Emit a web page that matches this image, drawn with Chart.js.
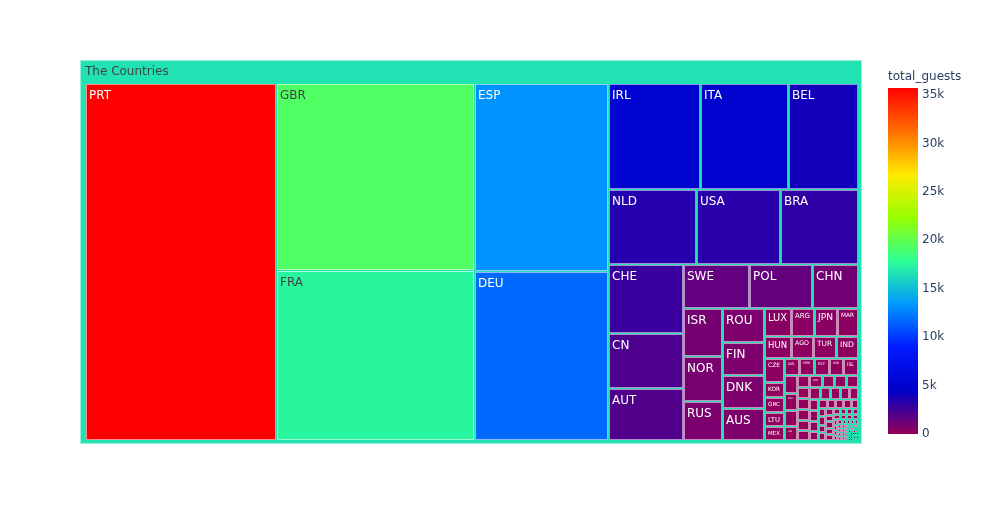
<!DOCTYPE html>
<html>
<head>
<meta charset="utf-8">
<script src="https://cdn.jsdelivr.net/npm/chart.js@4"></script>
<style>
  html, body { margin: 0; padding: 0; background: #fff; }
</style>
</head>
<body>
<canvas id="canva1" width="985" height="525"></canvas>
<script>
// pays (codes ISO) et nombre total de clients, triés du plus grand au plus petit
const countries = [
  'PRT', 'GBR', 'FRA', 'ESP', 'DEU', 'IRL', 'ITA', 'BEL', 'NLD', 'USA',
  'BRA', 'CHE', 'CN', 'AUT', 'SWE', 'POL', 'CHN', 'ISR', 'NOR', 'RUS',
  'ROU', 'FIN', 'DNK', 'AUS', 'LUX', 'ARG', 'JPN', 'MAR', 'HUN', 'AGO',
  'TUR', 'IND', 'CZE', 'KOR', 'GRC', 'LTU', 'MEX',
  'NZL', 'HRV', 'EST', 'SRB', 'ISL', 'SVN', 'SVK', 'COL', 'ZAF',
  'UKR', 'LVA', 'BGR', 'DZA', 'CYP', 'TWN', 'IRN', 'CHL', 'NGA',
  'THA', 'MYS', 'EGY', 'IDN', 'SAU', 'PHL', 'LBN', 'ARE', 'PER', 'SGP',
  'ECU', 'VEN', 'URY', 'TUN', 'BLR', 'HKG', 'MOZ', 'CPV', 'JOR', 'KAZ',
  'OMN', 'KWT', 'MAC', 'QAT', 'BIH', 'PAK', 'BGD', 'GEO', 'AZE', 'MLT',
  'CRI', 'ALB', 'MNE', 'DOM', 'MKD', 'CUB', 'ARM', 'BOL', 'PRI', 'SEN',
  'IRQ', 'CMR', 'GNB', 'VNM', 'LKA', 'AND', 'KEN', 'GIB', 'TZA', 'PAN',
  'ETH', 'JAM', 'SUR', 'UZB', 'SYR', 'CIV', 'GAB', 'MUS', 'ABW', 'BHR',
  'BFA', 'BRB', 'CAF', 'COM', 'DJI', 'DMA', 'FJI', 'FRO', 'GHA', 'GLP',
  'GTM', 'GUY', 'HND', 'IMN', 'JEY', 'KHM', 'KIR', 'KNA', 'LAO', 'LBY',
  'LCA', 'LIE', 'MCO', 'MDG', 'MDV', 'MLI', 'MMR', 'MWI', 'NAM', 'NCL',
  'NIC', 'NPL', 'PLW', 'PRY', 'PYF', 'RWA', 'SLE'
];

const totalGuests = [
  35720, 19340, 17480, 13190, 11790, 5120, 4890, 3890, 3400, 3250,
  3010, 2740, 2130, 2040, 1520, 1480, 1070, 962, 893, 790,
  740, 735, 720, 700, 385, 335, 333, 310, 305, 262,
  260, 250, 245, 157, 155, 150, 140,
  132, 131, 130, 129, 128, 126, 115, 108, 95,
  80, 79, 78, 77, 76, 72, 70, 68, 66,
  66, 64, 62, 60, 56, 54, 52, 50, 48, 42,
  40, 38, 37, 36, 34, 32, 30, 29, 28, 27,
  26, 25, 24, 23, 22, 21, 20, 19, 18, 17,
  16, 15, 14, 13, 12, 12, 11, 11, 10, 10,
  9, 9, 8, 8, 8, 7, 7, 7, 6, 6,
  6, 5, 5, 5, 5, 4, 4, 4, 4, 4,
  3, 3, 3, 3, 3, 3, 3, 2, 2, 2,
  2, 2, 2, 2, 2, 2, 2, 1, 1, 1,
  1, 1, 1, 1, 1, 1, 1, 1, 1, 1,
  1, 1, 1, 1, 1, 1, 1
];

const rootLabel = 'The Countries';
const colorbarTitle = 'total_guests';
const colorbarTicks = [0, 5000, 10000, 15000, 20000, 25000, 30000, 35000];

// échelle de couleurs "Rainbow" de plotly
const rainbow = [
  [0, [150, 0, 90]], [0.125, [0, 0, 200]], [0.25, [0, 25, 255]],
  [0.375, [0, 152, 255]], [0.5, [44, 255, 150]], [0.625, [151, 255, 0]],
  [0.75, [255, 234, 0]], [0.875, [255, 111, 0]], [1, [255, 0, 0]]
];

const cmax = Math.max(...totalGuests);
const FONT = '"DejaVu Sans", Verdana, sans-serif';
const ROOT_W = 782, ROOT_H = 384; // unités de l'espace du treemap

function couleur(v) {
  const t = Math.max(0, Math.min(1, v / cmax));
  for (let i = 1; i < rainbow.length; i++) {
    if (t <= rainbow[i][0]) {
      const [t0, c0] = rainbow[i - 1], [t1, c1] = rainbow[i];
      const k = (t - t0) / (t1 - t0);
      return c0.map((c, j) => Math.round(c + (c1[j] - c) * k));
    }
  }
  return rainbow[rainbow.length - 1][1];
}

function estClair(rgb) {
  return (rgb[0] * 299 + rgb[1] * 587 + rgb[2] * 114) / 1000 >= 128;
}

// squarify façon d3-hierarchy (ratio 1)
function squarify(items, x0, y0, x1, y1) {
  const out = [];
  let value = items.reduce((s, d) => s + d.v, 0);
  let i0 = 0, i1 = 0;
  const n = items.length;
  while (i0 < n) {
    const dx = x1 - x0, dy = y1 - y0;
    let sum = items[i1++].v, minV = sum, maxV = sum;
    const alpha = Math.max(dy / dx, dx / dy) / value;
    let beta = sum * sum * alpha;
    let minRatio = Math.max(maxV / beta, beta / minV);
    for (; i1 < n; ++i1) {
      const nv = items[i1].v;
      sum += nv;
      if (nv < minV) minV = nv;
      if (nv > maxV) maxV = nv;
      beta = sum * sum * alpha;
      const r = Math.max(maxV / beta, beta / minV);
      if (r > minRatio) { sum -= nv; break; }
      minRatio = r;
    }
    const row = items.slice(i0, i1);
    if (dx < dy) {
      const yb = y0 + dy * sum / value;
      let x = x0;
      row.forEach(d => { const w = dx * d.v / sum; out.push({ ...d, x0: x, x1: x + w, y0: y0, y1: yb }); x += w; });
      y0 = yb;
    } else {
      const xb = x0 + dx * sum / value;
      let y = y0;
      row.forEach(d => { const h = dy * d.v / sum; out.push({ ...d, x0: x0, x1: xb, y0: y, y1: y + h }); y += h; });
      x0 = xb;
    }
    value -= sum;
    i0 = i1;
  }
  return out;
}

function ecrireLabel(ctx, text, px0, py0, w, h, color) {
  const base = 12;
  ctx.font = base + 'px ' + FONT;
  const tw = ctx.measureText(text).width;
  let size = base;
  if (tw > w - 8) size = base * (w - 8) / tw;
  if (size * 1.2 > h - 4) size = (h - 4) / 1.2;
  if (size < 2.5) return;
  ctx.font = size + 'px ' + FONT;
  ctx.fillStyle = color;
  ctx.textBaseline = 'alphabetic';
  if (size >= base) {
    ctx.textAlign = 'left';
    ctx.fillText(text, px0 + 4, py0 + 4 + size);
  } else {
    ctx.textAlign = 'center';
    ctx.fillText(text, px0 + w / 2, py0 + 3 + size);
  }
}

const treemapPlugin = {
  id: 'treemap',
  beforeDatasetsDraw(chart) {
    const { ctx, scales: { x, y, cb } } = chart;
    const px = v => Math.round(x.getPixelForValue(v));
    const py = v => Math.round(y.getPixelForValue(v));

    const items = countries.map((c, i) => ({ label: c, v: totalGuests[i] }))
      .sort((a, b) => b.v - a.v);
    const total = items.reduce((s, d) => s + d.v, 0);
    const moyenne = items.reduce((s, d) => s + d.v * d.v, 0) / total;

    ctx.save();
    // racine
    const rc = couleur(moyenne);
    const r0 = px(0), r1 = px(ROOT_W), t0 = py(0), t1 = py(ROOT_H);
    ctx.fillStyle = `rgb(${rc})`;
    ctx.fillRect(r0, t0, r1 - r0, t1 - t0);
    ctx.strokeStyle = 'rgba(255,255,255,0.55)';
    ctx.lineWidth = 1;
    ctx.strokeRect(r0 + 0.5, t0 + 0.5, r1 - r0 - 1, t1 - t0 - 1);
    ctx.font = '12px ' + FONT;
    ctx.fillStyle = estClair(rc) ? '#444' : '#fff';
    ctx.textAlign = 'left';
    ctx.textBaseline = 'alphabetic';
    ctx.fillText(rootLabel, r0 + 5, t0 + 15);

    // feuilles
    const cells = squarify(items, 4.5, 22.5, ROOT_W - 4, ROOT_H - 4);
    cells.forEach(c => {
      const a = px(c.x0), b = px(c.x1), u = py(c.y0), d = py(c.y1);
      const w = b - a, h = d - u;
      const col = couleur(c.v);
      ctx.fillStyle = `rgb(${col})`;
      if (w > 1 && h > 1) ctx.fillRect(a + 1, u + 1, w - 1, h - 1);
      ctx.strokeStyle = 'rgba(255,255,255,0.55)';
      ctx.strokeRect(a + 1.5, u + 1.5, Math.max(w - 2, 0), Math.max(h - 2, 0));
      ecrireLabel(ctx, c.label, a, u, w, h, estClair(col) ? '#444' : '#fff');
    });

    // barre de couleur
    const yTop = cb.getPixelForValue(cmax), yBot = cb.getPixelForValue(0);
    const grad = ctx.createLinearGradient(0, yBot, 0, yTop);
    rainbow.forEach(([t, c]) => grad.addColorStop(t, `rgb(${c})`));
    ctx.fillStyle = grad;
    ctx.fillRect(cb.left + 26, yTop, 30, yBot - yTop);
    ctx.font = '12px ' + FONT;
    ctx.fillStyle = '#2a3f5f';
    ctx.textAlign = 'left';
    ctx.textBaseline = 'middle';
    ctx.fillText(colorbarTitle, cb.left + 26, chart.chartArea.top + 17);
    ctx.restore();
  }
};

const ctx = document.querySelector('#canva1');
new Chart(ctx, {
  type: 'scatter',
  data: { datasets: [{ data: [] }] },
  options: {
    responsive: false,
    animation: false,
    layout: { padding: { left: 80, top: 60, right: 41, bottom: 81 } },
    plugins: { legend: { display: false }, tooltip: { enabled: false } },
    scales: {
      x: { type: 'linear', display: false, min: 0, max: ROOT_W },
      y: { type: 'linear', display: false, min: 0, max: ROOT_H, reverse: true },
      cb: {
        axis: 'y',
        type: 'linear',
        position: 'right',
        min: -cmax * 10 / 346,
        max: cmax * (1 + 28 / 346),
        grid: { display: false, drawTicks: false },
        border: { display: false },
        afterBuildTicks: s => { s.ticks = colorbarTicks.map(v => ({ value: v })); },
        afterFit: s => { s.width = 82; s.paddingTop = 0; s.paddingBottom = 0; },
        ticks: {
          padding: 60,
          color: '#2a3f5f',
          font: { family: FONT, size: 12 },
          callback: v => v === 0 ? '0' : (v / 1000) + 'k'
        }
      }
    }
  },
  plugins: [treemapPlugin]
});
</script>
</body>
</html>
